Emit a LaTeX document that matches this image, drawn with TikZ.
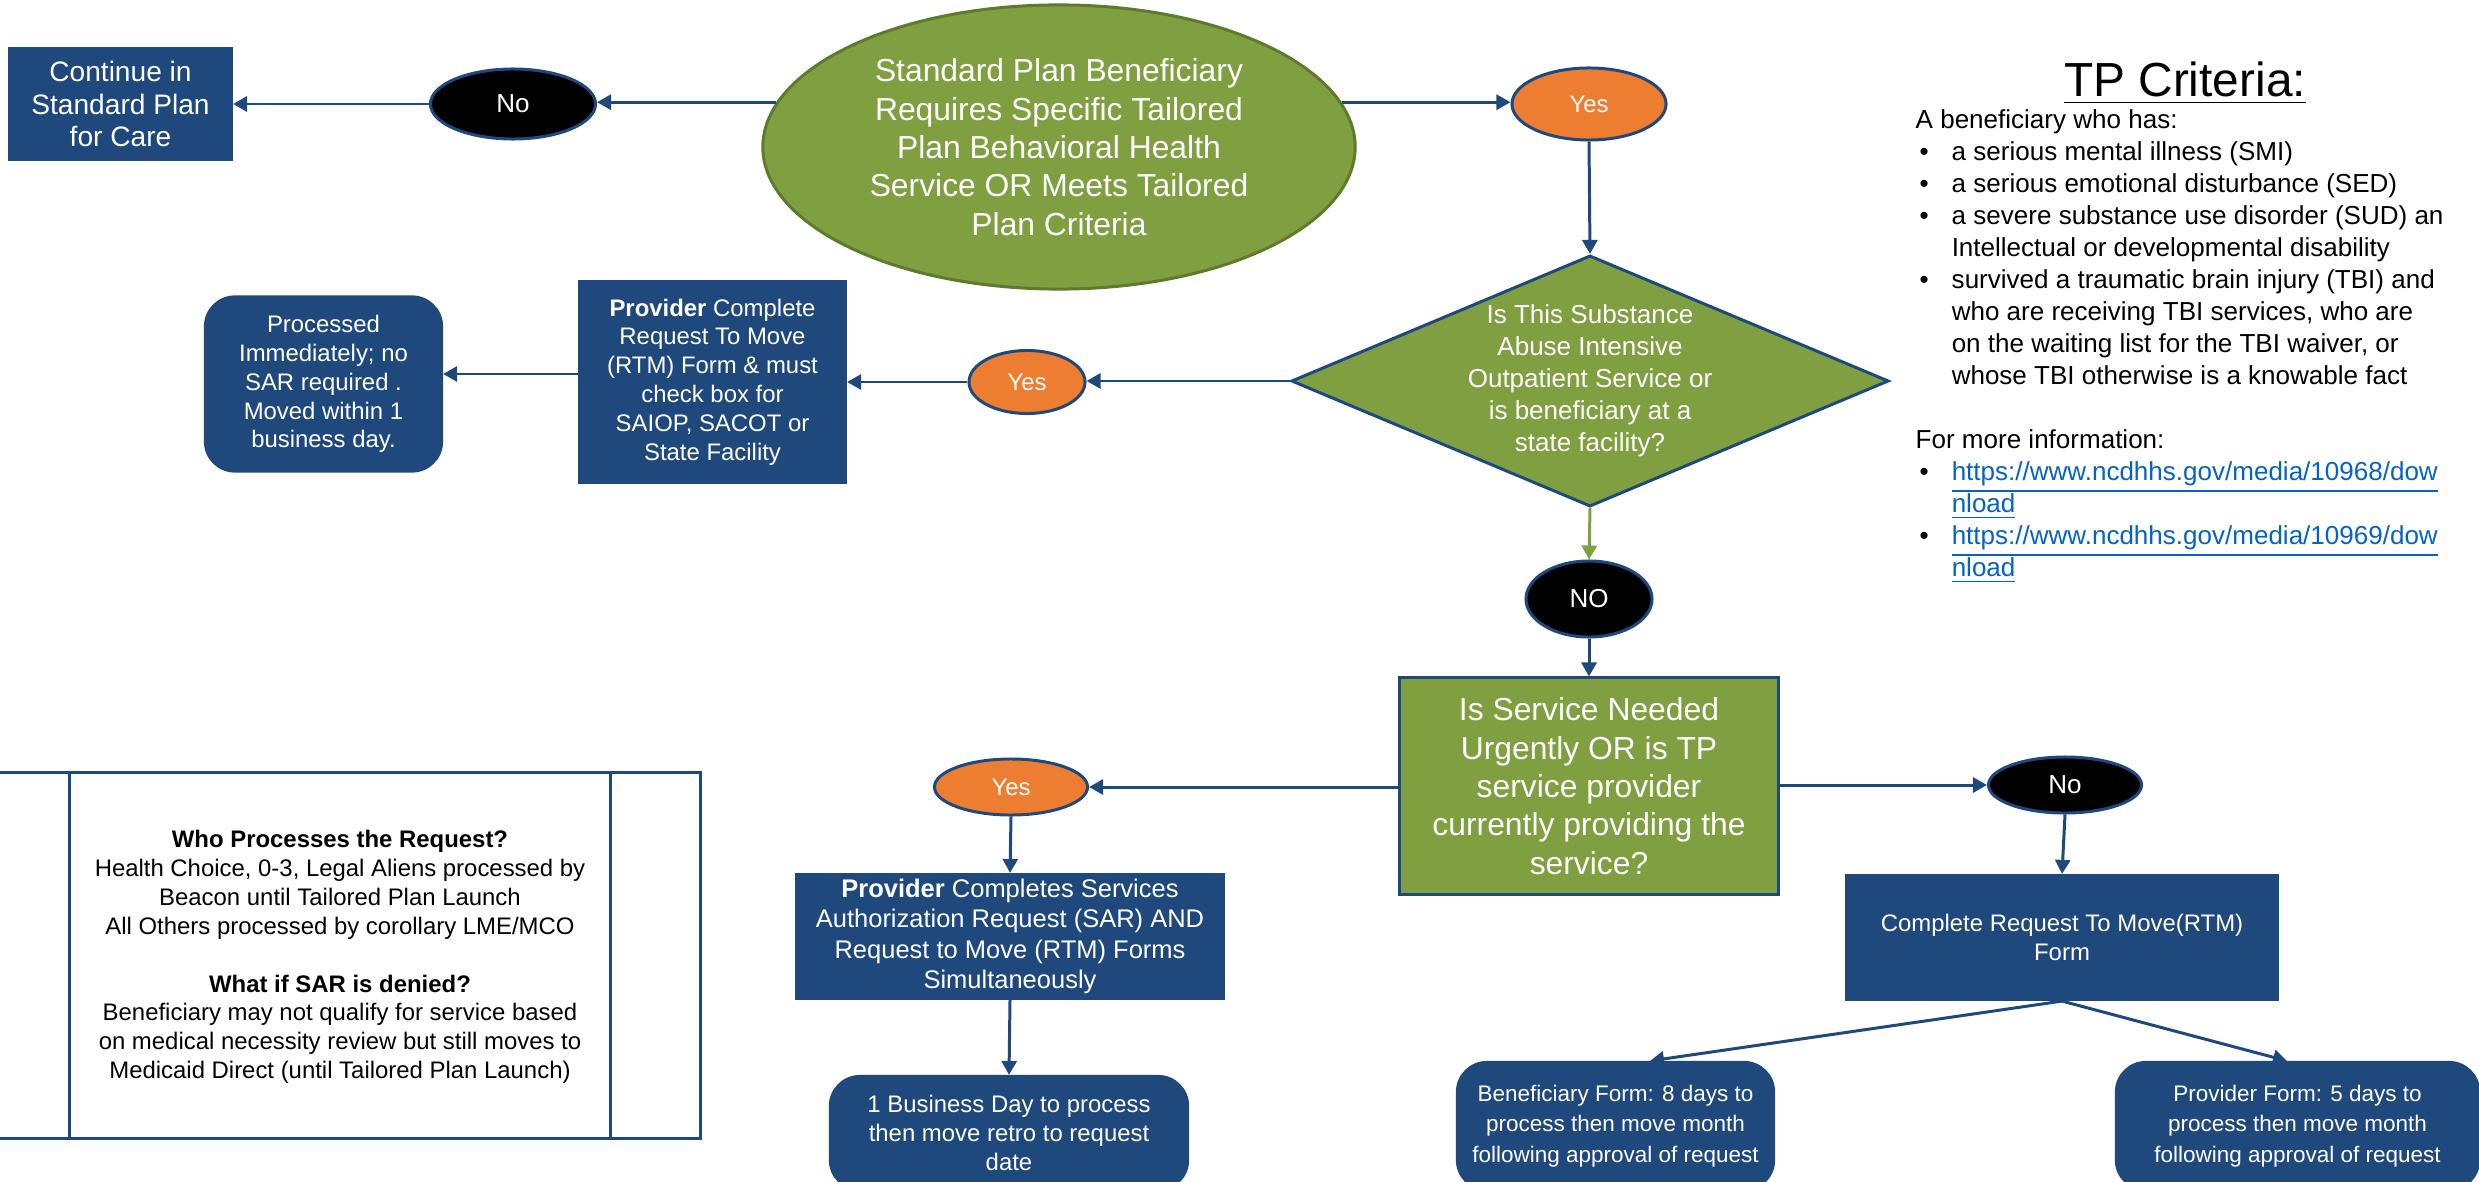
\documentclass[tikz,border=0pt]{standalone}
\usepackage{fontspec}
\setmainfont{Liberation Sans}
\usetikzlibrary{shapes.geometric,arrows.meta,calc}

\definecolor{navy}{HTML}{1F497D}
\definecolor{olive}{HTML}{7F9F40}
\definecolor{olivedark}{HTML}{5E7A2C}
\definecolor{amber}{HTML}{ED7D31}
\definecolor{linkblue}{HTML}{0563C1}

\newcommand\szA{\fontsize{6.8pt}{8.2pt}\selectfont}
\newcommand\szB{\fontsize{7.4pt}{9.1pt}\selectfont}
\newcommand\szC{\fontsize{9.05pt}{10.9pt}\selectfont}
\newcommand\szT{\fontsize{13.6pt}{16pt}\selectfont}
\newcommand\bul{\hspace*{0.4mm}\makebox[3.2mm][l]{\textbullet}}
\newcommand\ind{\hspace*{3.6mm}}
\newcommand\weblink[1]{\textcolor{linkblue}{\underline{#1}}}

\tikzset{
  every node/.style={inner sep=0pt},
  bluebox/.style={rectangle, fill=navy, draw=navy, line width=0.6pt,
    text=white, align=center, font=\szA},
  bluerbox/.style={bluebox, rounded corners=3mm},
  olivebox/.style={rectangle, fill=olive, draw=navy, line width=0.85pt,
    text=white, align=center, font=\szC},
  blackoval/.style={ellipse, fill=black, draw=navy, line width=0.85pt,
    text=white, font=\szB},
  amberoval/.style={ellipse, fill=amber, draw=navy, line width=0.85pt,
    text=white, font=\szA},
  arr/.style={draw=navy, line width=0.85pt,
    -{Triangle[length=1.4mm,width=1.5mm]}},
  garr/.style={arr, draw=olive},
}

\begin{document}
\begin{tikzpicture}[x=0.01cm, y=-0.01cm]
\useasboundingbox (0,0) rectangle (2479,1182);

% --- top row -------------------------------------------------------------
\node[bluebox, font=\fontsize{8pt}{9.3pt}\selectfont,
  minimum width=22.3mm, minimum height=11.2mm]
  (cont) at (120.5,104) {Continue in\\Standard Plan\\for Care};
\node[blackoval, minimum width=16.5mm, minimum height=7mm]
  (no1) at (513,104) {No};
\node[ellipse, fill=olive, draw=olivedark, line width=0.85pt, text=white,
  align=center, font=\szC, minimum width=59.2mm, minimum height=28.4mm]
  (start) at (1059,147)
  {Standard Plan Beneficiary\\Requires Specific Tailored\\Plan Behavioral Health\\Service OR Meets Tailored\\Plan Criteria};
\node[amberoval, minimum width=15.4mm, minimum height=7.2mm]
  (yes1) at (1589,104) {Yes};

% --- substance abuse decision --------------------------------------------
\node[diamond, fill=olive, draw=navy, line width=0.85pt,
  minimum width=59.7mm, minimum height=25.1mm] (diam) at (1590,381) {};
\node[text=white, align=center, font=\szB] (diamtext) at (diam.center)
  {Is This Substance\\Abuse Intensive\\Outpatient Service or\\is beneficiary at a\\state facility?};
\node[amberoval, minimum width=11.6mm, minimum height=6.3mm]
  (yes2) at (1027,382) {Yes};
\node[bluebox, minimum width=26.7mm, minimum height=20.2mm]
  (rtm1) at (712.5,382)
  {\textbf{Provider} Complete\\Request To Move\\(RTM) Form \& must\\check box for\\SAIOP, SACOT or\\State Facility};
\node[bluerbox, minimum width=23.7mm, minimum height=17.5mm]
  (proc) at (323.5,384)
  {Processed\\Immediately; no\\SAR required .\\Moved within 1\\business day.};
\node[blackoval, minimum width=12.6mm, minimum height=7.6mm]
  (no2) at (1589,599) {NO};

% --- urgency decision ----------------------------------------------------
\node[olivebox, minimum width=37.8mm, minimum height=21.6mm]
  (q2) at (1589,786)
  {Is Service Needed\\Urgently OR is TP\\service provider\\currently providing the\\service?};
\node[amberoval, minimum width=15.3mm, minimum height=5.6mm]
  (yes3) at (1011,787) {Yes};
\node[bluebox, font=\fontsize{7.25pt}{8.6pt}\selectfont,
  minimum width=42.8mm, minimum height=12.5mm]
  (sar) at (1010,936.5)
  {\textbf{Provider} Completes Services\\Authorization Request (SAR) AND\\Request to Move (RTM) Forms\\Simultaneously};
\node[bluerbox, minimum width=35.8mm, minimum height=11.4mm]
  (bd1) at (1009,1133)
  {1 Business Day to process\\then move retro to request\\date};
\node[blackoval, minimum width=15.3mm, minimum height=5.6mm]
  (no3) at (2065,785) {No};
\node[bluebox, minimum width=43.2mm, minimum height=12.5mm]
  (rtm2) at (2062,937.5) {Complete Request To Move(RTM)\\Form};
\node[bluerbox, font=\fontsize{6.4pt}{8.7pt}\selectfont,
  minimum width=31.7mm, minimum height=12.8mm]
  (benf) at (1615.5,1126)
  {Beneficiary Form: 8 days to\\process then move month\\following approval of request};
\node[bluerbox, font=\fontsize{6.4pt}{8.7pt}\selectfont,
  minimum width=36.3mm, minimum height=12.8mm]
  (provf) at (2297.5,1126)
  {Provider Form: 5 days to\\process then move month\\following approval of request};

% --- connectors ----------------------------------------------------------
\draw[arr] (start.171.3) -- (start.171.3 -| no1.east);
\draw[arr] (no1.west) -- (no1.west -| cont.east);
\draw[arr] (start.9.3) -- (start.9.3 -| yes1.west);
\draw[arr] (yes1.south) -- (diam.north);
\draw[arr] (diam.west) -- (diam.west -| yes2.east);
\draw[arr] (yes2.west) -- (yes2.west -| rtm1.east);
\draw[arr] ([yshift=0.8mm]rtm1.west) -- ([yshift=0.8mm]rtm1.west -| proc.east);
\draw[garr] (diam.south) -- (no2.north);
\draw[arr] (no2.south) -- (q2.north);
\draw[arr] (q2.west |- yes3.east) -- (yes3.east);
\draw[arr] (yes3.south) -- (sar.north);
\draw[arr] (sar.south) -- (bd1.north);
\draw[arr] (q2.east |- no3.west) -- (no3.west);
\draw[arr] (no3.south) -- (rtm2.north);
\draw[arr] (rtm2.south) -- ([xshift=3.45mm]benf.north);
\draw[arr] (rtm2.south) -- ([xshift=-1.05mm]provf.north);

% --- note panel ----------------------------------------------------------
\node[rectangle, draw=navy, line width=0.85pt,
  minimum width=71mm, minimum height=36.5mm] (info) at (345,955.5) {};
\draw[navy, line width=0.85pt]
  ([xshift=8.1mm]info.north west) -- ([xshift=8.1mm]info.south west);
\draw[navy, line width=0.85pt]
  ([xshift=-9.1mm]info.north east) -- ([xshift=-9.1mm]info.south east);
\node[align=center, font=\szA] (infotext) at (340,957)
  {\textbf{Who Processes the Request?}\\
   Health Choice, 0-3, Legal Aliens processed by\\
   Beacon until Tailored Plan Launch\\
   All Others processed by corollary LME/MCO\\[8.2pt]
   \textbf{What if SAR is denied?}\\
   Beneficiary may not qualify for service based\\
   on medical necessity review but still moves to\\
   Medicaid Direct (until Tailored Plan Launch)};

% --- criteria list -------------------------------------------------------
\node[anchor=base, font=\szT] (tptitle) at (2185,97) {\underline{TP Criteria:}};
\node[anchor=north west, align=left, font=\szB] (tplist) at (1915,109)
  {A beneficiary who has:\\
   \bul a serious mental illness (SMI)\\
   \bul a serious emotional disturbance (SED)\\
   \bul a severe substance use disorder (SUD) an\\
   \ind Intellectual or developmental disability\\
   \bul survived a traumatic brain injury (TBI) and\\
   \ind who are receiving TBI services, who are\\
   \ind on the waiting list for the TBI waiver, or\\
   \ind whose TBI otherwise is a knowable fact\\[9.1pt]
   For more information:\\
   \bul \weblink{https://www.ncdhhs.gov/media/10968/dow}\\
   \ind \weblink{nload}\\
   \bul \weblink{https://www.ncdhhs.gov/media/10969/dow}\\
   \ind \weblink{nload}};
\end{tikzpicture}
\end{document}
